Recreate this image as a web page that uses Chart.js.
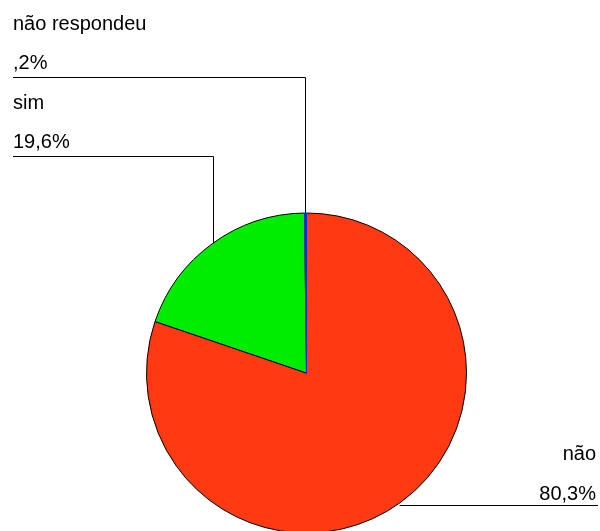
<!DOCTYPE html>
<html>
<head>
<meta charset="utf-8">
<script src="https://cdn.jsdelivr.net/npm/chart.js@4/dist/chart.umd.min.js"></script>
<style>
    html, body { margin: 0; padding: 0; background: #fff; overflow: hidden; }
    #wrap { width: 600px; height: 531px; overflow: hidden; }
</style>
</head>
<body>
<div id="wrap"><canvas id="pieChart" width="600" height="534"></canvas></div>
<script>
// Chart data
const categories = ['não', 'sim', 'não respondeu'];
const values = [80.3, 19.6, 0.2];
const valueLabels = ['80,3%', '19,6%', ',2%'];
const sliceColors = ['#ff3a12', '#00ec00', '#0033cc'];
const sliceBorders = ['#000', '#000', '#0033cc'];

// Label placement per slice (layout only)
const labelLayout = [
    { side: 'right', lineY: null },
    { side: 'left', lineY: 156 },
    { side: 'left', lineY: 77 }
];

const FONT = '20px "Liberation Sans", Arial, sans-serif';

// Leader lines + labels
const leaderLabels = {
    id: 'leaderLabels',
    afterDraw(chart) {
        const ctx = chart.ctx;
        const arcs = chart.getDatasetMeta(0).data;
        ctx.save();
        ctx.font = FONT;
        ctx.fillStyle = '#000';
        ctx.strokeStyle = '#000';
        ctx.lineWidth = 1;
        ctx.textBaseline = 'alphabetic';

        arcs.forEach((arc, i) => {
            const p = arc.getProps(['x', 'y', 'startAngle', 'endAngle', 'outerRadius'], true);
            const mid = (p.startAngle + p.endAngle) / 2;
            const ax = p.x + Math.cos(mid) * p.outerRadius;
            const ay = p.y + Math.sin(mid) * p.outerRadius;
            const layout = labelLayout[i];

            ctx.beginPath();
            if (layout.side === 'left') {
                const lx = Math.round(ax) + 0.5;
                const ly = Math.round(layout.lineY) + 0.5;
                ctx.moveTo(lx, ay);
                ctx.lineTo(lx, ly);
                ctx.lineTo(13, ly);
                ctx.stroke();
                ctx.textAlign = 'left';
                ctx.fillText(categories[i], 13, layout.lineY - 47);
                ctx.fillText(valueLabels[i], 13, layout.lineY - 8);
            } else {
                const ly = Math.round(ay) + 2.5;
                ctx.moveTo(ax, ly);
                ctx.lineTo(598, ly);
                ctx.stroke();
                ctx.textAlign = 'right';
                ctx.fillText(categories[i], 596, ly - 46);
                ctx.fillText(valueLabels[i], 596, ly - 6);
            }
        });
        ctx.restore();
    }
};

function initializeChart() {
    const ctx = document.getElementById('pieChart').getContext('2d');
    new Chart(ctx, {
        type: 'pie',
        data: {
            labels: categories,
            datasets: [{
                data: values,
                backgroundColor: sliceColors,
                borderColor: sliceBorders,
                borderWidth: 1
            }]
        },
        options: {
            responsive: false,
            animation: false,
            layout: {
                padding: { left: 146, right: 133, top: 212, bottom: 0 }
            },
            plugins: {
                legend: { display: false },
                tooltip: { enabled: false }
            }
        },
        plugins: [leaderLabels]
    });
}

document.addEventListener('DOMContentLoaded', initializeChart);
</script>
</body>
</html>
